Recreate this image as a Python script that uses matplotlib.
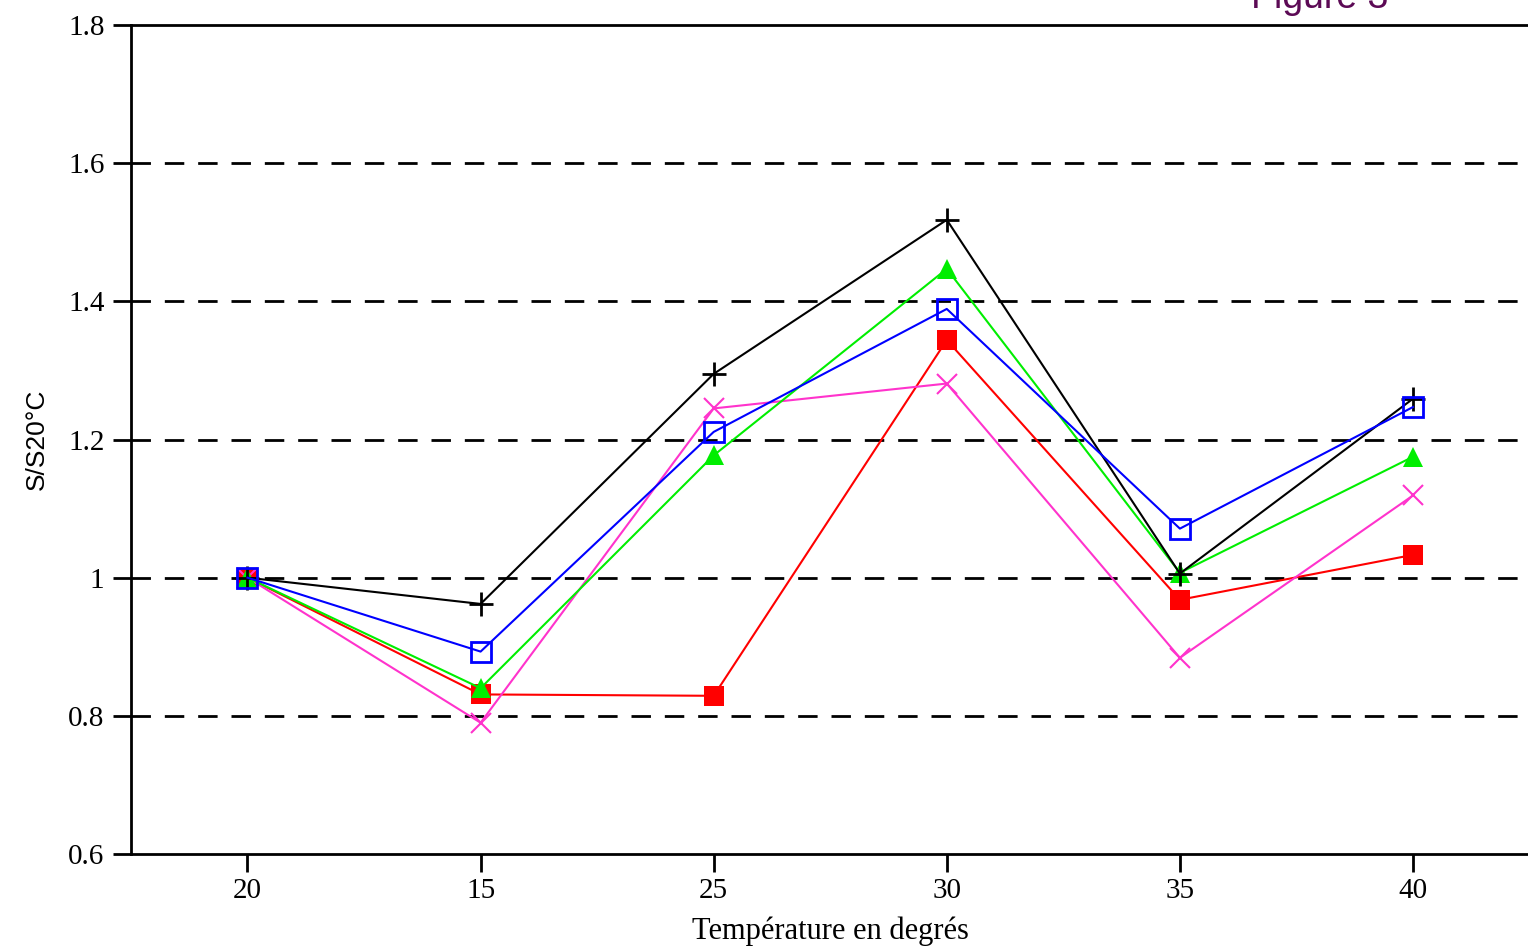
import matplotlib.pyplot as plt
import numpy as np

# Températures (ordre des mesures) et rapports S/S20°C
temperatures = ["20", "15", "25", "30", "35", "40"]
serie_noire = [1.0, 0.962, 1.295, 1.518, 1.006, 1.259]
serie_verte = [1.0, 0.840, 1.177, 1.447, 1.007, 1.175]
serie_bleue = [1.0, 0.893, 1.211, 1.389, 1.071, 1.247]
serie_rouge = [1.0, 0.831, 0.829, 1.344, 0.968, 1.033]
serie_rose = [1.0, 0.790, 1.245, 1.281, 0.884, 1.119]

yticks = [0.6, 0.8, 1.0, 1.2, 1.4, 1.6, 1.8]
ytick_labels = ["0.6", "0.8", "1", "1.2", "1.4", "1.6", "1.8"]

x = np.arange(len(temperatures))

fig = plt.figure(figsize=(15.28, 9.47), dpi=100)
ax = fig.add_axes([0.0857, 0.0982, 0.9153, 0.8754])

# Quadrillage horizontal en tirets
for y in [0.8, 1.0, 1.2, 1.4, 1.6]:
    ax.axhline(y, color="black", linestyle=(0, (7, 5)), linewidth=2, zorder=1)

ax.plot(x, serie_rouge, color="#ff0000", linewidth=1.5, marker="s",
        markersize=14, markeredgewidth=0, zorder=3)
ax.plot(x, serie_rose, color="#ff33cc", linewidth=1.5, marker="x",
        markersize=15, markeredgewidth=1.5, zorder=3)
ax.plot(x, serie_verte, color="#00ee00", linewidth=1.5, marker="^",
        markersize=15, markeredgewidth=0, zorder=4)
ax.plot(x, serie_noire, color="black", linewidth=1.5, marker="+",
        markersize=17, markeredgewidth=2, zorder=4)
ax.plot(x, serie_bleue, color="#0000ff", linewidth=1.5, marker="s",
        markersize=15, markerfacecolor="none", markeredgewidth=2, zorder=5)

ax.set_xlim(-0.5, 5.5)
ax.set_ylim(0.6, 1.8)
ax.set_xticks(x)
ax.set_xticklabels(temperatures)
ax.set_yticks(yticks)
ax.set_yticklabels(ytick_labels)

for lab in ax.get_xticklabels() + ax.get_yticklabels():
    lab.set_family("Liberation Serif")
    lab.set_fontsize(21)

ax.tick_params(axis="both", direction="out", length=13, width=2, color="black")
ax.tick_params(axis="x", pad=4)
ax.tick_params(axis="y", pad=6)

for side in ["left", "bottom", "top"]:
    ax.spines[side].set_linewidth(2)
ax.spines["right"].set_visible(False)

ax.set_xlabel("Température en degrés", family="Liberation Serif", fontsize=22, labelpad=9)
ax.set_ylabel("S/S20°C", family="Liberation Sans", fontsize=19, labelpad=14)

fig.text(0.819, 0.992, "Figure 3", family="Liberation Sans", fontsize=27,
         color="#5c0a55", va="baseline", ha="left")

plt.savefig("out.png", dpi=100)
